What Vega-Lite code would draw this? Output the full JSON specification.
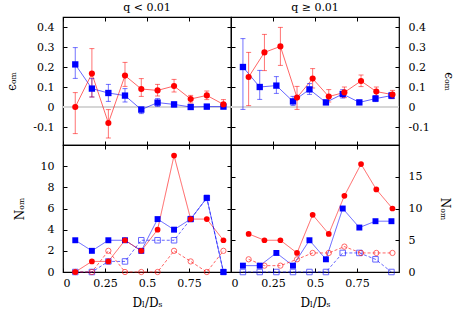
{
  "$schema": "https://vega.github.io/schema/vega-lite/v6.json",
  "padding": {"left": 5, "top": 0, "right": 0, "bottom": 0},
  "autosize": {"type": "pad"},
  "background": "white",
  "datasets": {
    "epsL": [
      {"s": "b", "x": 0.073, "y": 0.213, "lo": 0.143, "hi": 0.297},
      {"s": "b", "x": 0.172, "y": 0.092, "lo": 0.050, "hi": 0.142},
      {"s": "b", "x": 0.270, "y": 0.070, "lo": 0.028, "hi": 0.113},
      {"s": "b", "x": 0.369, "y": 0.057, "lo": 0.025, "hi": 0.092},
      {"s": "b", "x": 0.466, "y": -0.013, "lo": -0.033, "hi": 0.0},
      {"s": "b", "x": 0.563, "y": 0.022, "lo": 0.003, "hi": 0.042},
      {"s": "b", "x": 0.661, "y": 0.013, "lo": 0.0, "hi": 0.025},
      {"s": "b", "x": 0.760, "y": 0.0, "lo": -0.01, "hi": 0.01},
      {"s": "b", "x": 0.856, "y": 0.002, "lo": -0.01, "hi": 0.013},
      {"s": "b", "x": 0.955, "y": 0.002, "lo": -0.008, "hi": 0.012},
      {"s": "r", "x": 0.073, "y": 0.0, "lo": -0.133, "hi": 0.072},
      {"s": "r", "x": 0.172, "y": 0.167, "lo": 0.050, "hi": 0.292},
      {"s": "r", "x": 0.270, "y": -0.080, "lo": -0.155, "hi": -0.013},
      {"s": "r", "x": 0.369, "y": 0.157, "lo": 0.103, "hi": 0.223},
      {"s": "r", "x": 0.466, "y": 0.090, "lo": 0.053, "hi": 0.142},
      {"s": "r", "x": 0.563, "y": 0.083, "lo": 0.055, "hi": 0.113},
      {"s": "r", "x": 0.661, "y": 0.105, "lo": 0.075, "hi": 0.138},
      {"s": "r", "x": 0.760, "y": 0.040, "lo": 0.020, "hi": 0.058},
      {"s": "r", "x": 0.856, "y": 0.058, "lo": 0.037, "hi": 0.080},
      {"s": "r", "x": 0.955, "y": 0.013, "lo": -0.003, "hi": 0.037}
    ],
    "epsR": [
      {"s": "b", "x": 0.071, "y": 0.200, "lo": -0.012, "hi": 0.342},
      {"s": "b", "x": 0.171, "y": 0.100, "lo": 0.038, "hi": 0.183},
      {"s": "b", "x": 0.270, "y": 0.107, "lo": 0.068, "hi": 0.152},
      {"s": "b", "x": 0.369, "y": 0.028, "lo": 0.008, "hi": 0.053},
      {"s": "b", "x": 0.467, "y": 0.088, "lo": 0.063, "hi": 0.117},
      {"s": "b", "x": 0.565, "y": 0.023, "lo": 0.012, "hi": 0.035},
      {"s": "b", "x": 0.665, "y": 0.065, "lo": 0.045, "hi": 0.087},
      {"s": "b", "x": 0.764, "y": 0.023, "lo": 0.013, "hi": 0.033},
      {"s": "b", "x": 0.860, "y": 0.042, "lo": 0.027, "hi": 0.057},
      {"s": "b", "x": 0.955, "y": 0.057, "lo": 0.042, "hi": 0.073},
      {"s": "r", "x": 0.105, "y": 0.150, "lo": 0.007, "hi": 0.273},
      {"s": "r", "x": 0.199, "y": 0.273, "lo": 0.182, "hi": 0.363},
      {"s": "r", "x": 0.294, "y": 0.303, "lo": 0.208, "hi": 0.398},
      {"s": "r", "x": 0.393, "y": 0.047, "lo": -0.012, "hi": 0.103},
      {"s": "r", "x": 0.486, "y": 0.142, "lo": 0.095, "hi": 0.192},
      {"s": "r", "x": 0.582, "y": 0.052, "lo": 0.025, "hi": 0.087},
      {"s": "r", "x": 0.675, "y": 0.073, "lo": 0.047, "hi": 0.100},
      {"s": "r", "x": 0.774, "y": 0.130, "lo": 0.102, "hi": 0.160},
      {"s": "r", "x": 0.865, "y": 0.077, "lo": 0.055, "hi": 0.100},
      {"s": "r", "x": 0.961, "y": 0.062, "lo": 0.042, "hi": 0.083}
    ],
    "nL": [
      {"s": "bf", "x": 0.073, "n": 3}, {"s": "bf", "x": 0.172, "n": 2}, {"s": "bf", "x": 0.270, "n": 3}, {"s": "bf", "x": 0.369, "n": 3}, {"s": "bf", "x": 0.466, "n": 2},
      {"s": "bf", "x": 0.563, "n": 5}, {"s": "bf", "x": 0.661, "n": 4}, {"s": "bf", "x": 0.760, "n": 5}, {"s": "bf", "x": 0.856, "n": 7}, {"s": "bf", "x": 0.955, "n": 0},
      {"s": "rf", "x": 0.073, "n": 0}, {"s": "rf", "x": 0.172, "n": 1}, {"s": "rf", "x": 0.270, "n": 1}, {"s": "rf", "x": 0.369, "n": 3}, {"s": "rf", "x": 0.466, "n": 2},
      {"s": "rf", "x": 0.563, "n": 4}, {"s": "rf", "x": 0.661, "n": 11}, {"s": "rf", "x": 0.760, "n": 5}, {"s": "rf", "x": 0.856, "n": 5}, {"s": "rf", "x": 0.955, "n": 3},
      {"s": "bo", "x": 0.073, "n": 0}, {"s": "bo", "x": 0.172, "n": 0}, {"s": "bo", "x": 0.270, "n": 1}, {"s": "bo", "x": 0.369, "n": 1}, {"s": "bo", "x": 0.466, "n": 3},
      {"s": "bo", "x": 0.563, "n": 3}, {"s": "bo", "x": 0.661, "n": 3}, {"s": "bo", "x": 0.760, "n": 5}, {"s": "bo", "x": 0.856, "n": 7}, {"s": "bo", "x": 0.955, "n": 0},
      {"s": "ro", "x": 0.073, "n": 0}, {"s": "ro", "x": 0.172, "n": 0}, {"s": "ro", "x": 0.270, "n": 2}, {"s": "ro", "x": 0.369, "n": 0}, {"s": "ro", "x": 0.466, "n": 0},
      {"s": "ro", "x": 0.563, "n": 0}, {"s": "ro", "x": 0.661, "n": 2}, {"s": "ro", "x": 0.760, "n": 1}, {"s": "ro", "x": 0.856, "n": 0}, {"s": "ro", "x": 0.955, "n": 2}
    ],
    "nR": [
      {"s": "bf", "x": 0.071, "n": 1}, {"s": "bf", "x": 0.171, "n": 1}, {"s": "bf", "x": 0.270, "n": 3}, {"s": "bf", "x": 0.369, "n": 1}, {"s": "bf", "x": 0.467, "n": 5},
      {"s": "bf", "x": 0.565, "n": 2}, {"s": "bf", "x": 0.665, "n": 10}, {"s": "bf", "x": 0.764, "n": 7}, {"s": "bf", "x": 0.860, "n": 8}, {"s": "bf", "x": 0.955, "n": 8},
      {"s": "rf", "x": 0.105, "n": 6}, {"s": "rf", "x": 0.199, "n": 5}, {"s": "rf", "x": 0.294, "n": 5}, {"s": "rf", "x": 0.393, "n": 3}, {"s": "rf", "x": 0.486, "n": 9},
      {"s": "rf", "x": 0.582, "n": 6}, {"s": "rf", "x": 0.675, "n": 12}, {"s": "rf", "x": 0.774, "n": 17}, {"s": "rf", "x": 0.865, "n": 13}, {"s": "rf", "x": 0.961, "n": 10},
      {"s": "bo", "x": 0.071, "n": 0}, {"s": "bo", "x": 0.171, "n": 0}, {"s": "bo", "x": 0.270, "n": 0}, {"s": "bo", "x": 0.369, "n": 0}, {"s": "bo", "x": 0.467, "n": 0},
      {"s": "bo", "x": 0.565, "n": 0}, {"s": "bo", "x": 0.665, "n": 3}, {"s": "bo", "x": 0.764, "n": 3}, {"s": "bo", "x": 0.860, "n": 2}, {"s": "bo", "x": 0.955, "n": 0},
      {"s": "ro", "x": 0.105, "n": 2}, {"s": "ro", "x": 0.199, "n": 1}, {"s": "ro", "x": 0.294, "n": 1}, {"s": "ro", "x": 0.393, "n": 2}, {"s": "ro", "x": 0.486, "n": 3},
      {"s": "ro", "x": 0.582, "n": 3}, {"s": "ro", "x": 0.675, "n": 4}, {"s": "ro", "x": 0.774, "n": 3}, {"s": "ro", "x": 0.865, "n": 3}, {"s": "ro", "x": 0.961, "n": 3}
    ]
  },
  "columns": 2,
  "spacing": 0,
  "bounds": "flush",
  "concat": [
    {
      "width": 168, "height": 128,
      "title": "q < 0.01",
      "data": {"name": "epsL"},
      "layer": [
        {"mark": {"type": "rule", "color": "#d6d6d6", "strokeWidth": 2}, "encoding": {"y": {"datum": 0, "type": "quantitative", "axis": null}}},
        {"mark": {"type": "line", "strokeWidth": 1, "opacity": 0.6},
         "encoding": {
           "x": {"field": "x", "type": "quantitative", "scale": {"domain": [0, 1], "nice": false}, "axis": {"orient": "bottom", "values": [0, 0.25, 0.5, 0.75], "labels": false, "title": null}},
           "y": {"field": "y", "type": "quantitative", "scale": {"domain": [-0.19, 0.45], "nice": false, "zero": false}, "axis": {"orient": "left", "values": [-0.1, 0, 0.1, 0.2, 0.3, 0.4], "labelExpr": "datum.value + ''", "title": "ϵₒₘ"}},
           "color": {"field": "s", "type": "nominal", "scale": {"domain": ["b", "r"], "range": ["#0000ff", "#ff0000"]}, "legend": null}
         }},
        {"mark": {"type": "errorbar", "ticks": {"size": 5}, "opacity": 0.55},
         "encoding": {
           "x": {"field": "x", "type": "quantitative", "axis": null},
           "y": {"field": "lo", "type": "quantitative", "axis": null},
           "y2": {"field": "hi"},
           "color": {"field": "s", "type": "nominal", "legend": null}
         }},
        {"mark": {"type": "point", "filled": true, "opacity": 1},
         "encoding": {
           "x": {"field": "x", "type": "quantitative", "axis": {"orient": "top", "values": [0, 0.25, 0.5, 0.75], "labels": false, "title": null}},
           "y": {"field": "y", "type": "quantitative", "axis": {"orient": "right", "values": [-0.1, 0, 0.1, 0.2, 0.3, 0.4], "labels": false, "title": null}},
           "color": {"field": "s", "type": "nominal", "legend": null},
           "shape": {"field": "s", "type": "nominal", "scale": {"domain": ["b", "r"], "range": ["square", "circle"]}, "legend": null},
           "size": {"field": "s", "type": "nominal", "scale": {"domain": ["b", "r"], "range": [40, 28]}, "legend": null}
         }}
      ],
      "resolve": {"axis": {"x": "independent", "y": "independent"}}
    },
    {
      "width": 168, "height": 128,
      "title": "q ≥ 0.01",
      "data": {"name": "epsR"},
      "layer": [
        {"mark": {"type": "rule", "color": "#d6d6d6", "strokeWidth": 2}, "encoding": {"y": {"datum": 0, "type": "quantitative", "axis": null}}},
        {"mark": {"type": "line", "strokeWidth": 1, "opacity": 0.6},
         "encoding": {
           "x": {"field": "x", "type": "quantitative", "scale": {"domain": [0, 1], "nice": false}, "axis": {"orient": "bottom", "values": [0, 0.25, 0.5, 0.75], "labels": false, "title": null}},
           "y": {"field": "y", "type": "quantitative", "scale": {"domain": [-0.19, 0.45], "nice": false, "zero": false}, "axis": {"orient": "right", "values": [-0.1, 0, 0.1, 0.2, 0.3, 0.4], "labelExpr": "datum.value + ''", "title": "ϵₒₘ", "titlePadding": 12}},
           "color": {"field": "s", "type": "nominal", "scale": {"domain": ["b", "r"], "range": ["#0000ff", "#ff0000"]}, "legend": null}
         }},
        {"mark": {"type": "errorbar", "ticks": {"size": 5}, "opacity": 0.55},
         "encoding": {
           "x": {"field": "x", "type": "quantitative", "axis": null},
           "y": {"field": "lo", "type": "quantitative", "axis": null},
           "y2": {"field": "hi"},
           "color": {"field": "s", "type": "nominal", "legend": null}
         }},
        {"mark": {"type": "point", "filled": true, "opacity": 1},
         "encoding": {
           "x": {"field": "x", "type": "quantitative", "axis": {"orient": "top", "values": [0, 0.25, 0.5, 0.75], "labels": false, "title": null}},
           "y": {"field": "y", "type": "quantitative", "axis": {"orient": "left", "values": [-0.1, 0, 0.1, 0.2, 0.3, 0.4], "labels": false, "title": null}},
           "color": {"field": "s", "type": "nominal", "legend": null},
           "shape": {"field": "s", "type": "nominal", "scale": {"domain": ["b", "r"], "range": ["square", "circle"]}, "legend": null},
           "size": {"field": "s", "type": "nominal", "scale": {"domain": ["b", "r"], "range": [40, 28]}, "legend": null}
         }}
      ],
      "resolve": {"axis": {"x": "independent", "y": "independent"}}
    },
    {
      "width": 168, "height": 127,
      "data": {"name": "nL"},
      "layer": [
        {"mark": {"type": "line", "strokeWidth": 1, "opacity": 0.6},
         "encoding": {
           "x": {"field": "x", "type": "quantitative", "scale": {"domain": [0, 1], "nice": false}, "axis": {"orient": "bottom", "values": [0, 0.25, 0.5, 0.75], "labelExpr": "datum.value + ''", "title": "Dₗ/Dₛ"}},
           "y": {"field": "n", "type": "quantitative", "scale": {"domain": [0, 12], "nice": false}, "axis": {"orient": "left", "values": [0, 2, 4, 6, 8, 10], "title": "Nₒₘ"}},
           "color": {"field": "s", "type": "nominal", "scale": {"domain": ["bf", "rf", "bo", "ro"], "range": ["#0000ff", "#ff0000", "#0000ff", "#ff0000"]}, "legend": null},
           "strokeDash": {"field": "s", "type": "nominal", "scale": {"domain": ["bf", "rf", "bo", "ro"], "range": [[1, 0], [1, 0], [3, 2], [3, 2]]}, "legend": null}
         }},
        {"transform": [{"filter": {"field": "s", "oneOf": ["bo", "ro"]}}],
         "mark": {"type": "point", "filled": false, "strokeWidth": 1, "opacity": 0.6},
         "encoding": {
           "x": {"field": "x", "type": "quantitative", "axis": null},
           "y": {"field": "n", "type": "quantitative", "axis": null},
           "color": {"field": "s", "type": "nominal", "legend": null},
           "shape": {"field": "s", "type": "nominal", "scale": {"domain": ["bf", "rf", "bo", "ro"], "range": ["square", "circle", "square", "circle"]}, "legend": null},
           "size": {"field": "s", "type": "nominal", "scale": {"domain": ["bf", "rf", "bo", "ro"], "range": [40, 28, 30, 30]}, "legend": null}
         }},
        {"transform": [{"filter": {"field": "s", "oneOf": ["bf", "rf"]}}],
         "mark": {"type": "point", "filled": true, "opacity": 1},
         "encoding": {
           "x": {"field": "x", "type": "quantitative", "axis": {"orient": "top", "values": [0, 0.25, 0.5, 0.75], "labels": false, "title": null}},
           "y": {"field": "n", "type": "quantitative", "axis": {"orient": "right", "values": [0, 2, 4, 6, 8, 10], "labels": false, "title": null}},
           "color": {"field": "s", "type": "nominal", "legend": null},
           "shape": {"field": "s", "type": "nominal", "legend": null},
           "size": {"field": "s", "type": "nominal", "legend": null}
         }}
      ],
      "resolve": {"axis": {"x": "independent", "y": "independent"}}
    },
    {
      "width": 168, "height": 127,
      "data": {"name": "nR"},
      "layer": [
        {"mark": {"type": "line", "strokeWidth": 1, "opacity": 0.6},
         "encoding": {
           "x": {"field": "x", "type": "quantitative", "scale": {"domain": [0, 1], "nice": false}, "axis": {"orient": "bottom", "values": [0, 0.25, 0.5, 0.75], "labelExpr": "datum.value + ''", "title": "Dₗ/Dₛ"}},
           "y": {"field": "n", "type": "quantitative", "scale": {"domain": [0, 20], "nice": false}, "axis": {"orient": "right", "values": [0, 5, 10, 15], "title": "Nₒₘ", "titlePadding": 16}},
           "color": {"field": "s", "type": "nominal", "scale": {"domain": ["bf", "rf", "bo", "ro"], "range": ["#0000ff", "#ff0000", "#0000ff", "#ff0000"]}, "legend": null},
           "strokeDash": {"field": "s", "type": "nominal", "scale": {"domain": ["bf", "rf", "bo", "ro"], "range": [[1, 0], [1, 0], [3, 2], [3, 2]]}, "legend": null}
         }},
        {"transform": [{"filter": {"field": "s", "oneOf": ["bo", "ro"]}}],
         "mark": {"type": "point", "filled": false, "strokeWidth": 1, "opacity": 0.6},
         "encoding": {
           "x": {"field": "x", "type": "quantitative", "axis": null},
           "y": {"field": "n", "type": "quantitative", "axis": null},
           "color": {"field": "s", "type": "nominal", "legend": null},
           "shape": {"field": "s", "type": "nominal", "scale": {"domain": ["bf", "rf", "bo", "ro"], "range": ["square", "circle", "square", "circle"]}, "legend": null},
           "size": {"field": "s", "type": "nominal", "scale": {"domain": ["bf", "rf", "bo", "ro"], "range": [40, 28, 30, 30]}, "legend": null}
         }},
        {"transform": [{"filter": {"field": "s", "oneOf": ["bf", "rf"]}}],
         "mark": {"type": "point", "filled": true, "opacity": 1},
         "encoding": {
           "x": {"field": "x", "type": "quantitative", "axis": {"orient": "top", "values": [0, 0.25, 0.5, 0.75], "labels": false, "title": null}},
           "y": {"field": "n", "type": "quantitative", "axis": {"orient": "left", "values": [0, 5, 10, 15], "labels": false, "title": null}},
           "color": {"field": "s", "type": "nominal", "legend": null},
           "shape": {"field": "s", "type": "nominal", "legend": null},
           "size": {"field": "s", "type": "nominal", "legend": null}
         }}
      ],
      "resolve": {"axis": {"x": "independent", "y": "independent"}}
    }
  ],
  "config": {
    "font": "DejaVu Serif",
    "view": {"stroke": "black", "strokeWidth": 1.2},
    "axis": {
      "labelFont": "DejaVu Serif", "labelFontSize": 11, "labelColor": "black",
      "titleFont": "DejaVu Serif", "titleFontSize": 12, "titleFontWeight": "normal", "titleColor": "black",
      "tickColor": "black", "tickSize": -4, "domain": false, "grid": false
    },
    "axisX": {"labelPadding": 9, "titlePadding": 9},
    "axisY": {"labelPadding": 13, "titlePadding": 14},
    "title": {"font": "DejaVu Serif", "fontSize": 11, "fontWeight": "normal", "offset": 4, "color": "black"}
  }
}
